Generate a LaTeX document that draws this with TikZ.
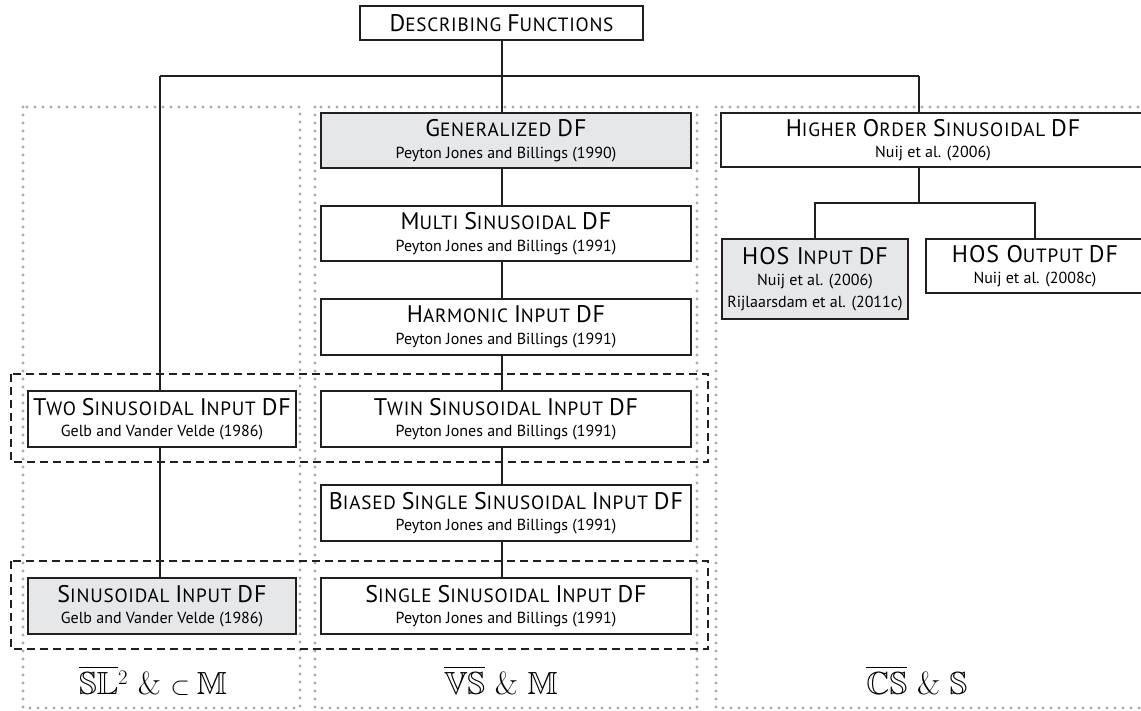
\documentclass[tikz,border=0pt]{standalone}
\usepackage{amssymb}
\usepackage{fontspec}
\newfontfamily\dfsans{PT Sans}
\newfontfamily\dftitle{PT Sans}[LetterSpace=4]

\definecolor{ink}{HTML}{231F20}
\definecolor{boxgray}{HTML}{E6E7E8}
\definecolor{dotgray}{HTML}{A7A9AC}

% hand-made small capitals: \C gives the full-size capitals, \ttl the small ones
\newcommand\C[1]{{\fontsize{24}{22}\selectfont #1}}
\newcommand\ttl[1]{{\dftitle\fontsize{19.2}{22}\selectfont #1}}

\pgfdeclarelayer{frames}
\pgfdeclarelayer{links}
\pgfsetlayers{frames,links,main}

\tikzset{
  dfbox/.style={draw=ink, line width=2pt, fill=white, align=center,
    inner sep=0pt, font=\dfsans\fontsize{16}{21.5}\selectfont},
  keybox/.style={dfbox, fill=boxgray},
  link/.style={draw=ink, line width=2pt},
  column/.style={draw=dotgray, line width=3.2pt, line cap=round,
    dash pattern=on 0pt off 8pt},
  group/.style={draw=ink, line width=1.8pt, dash pattern=on 8pt off 5pt},
  setlabel/.style={font=\fontsize{32}{36}\selectfont, anchor=base, inner sep=0pt}
}

\begin{document}
\begin{tikzpicture}[x=1pt,y=-1pt]
\clip (0,0) rectangle (1141,711);

% ---- root
\node[dfbox, minimum width=283pt, minimum height=34pt] (root) at (501.5,23)
  {\ttl{\C{D}ESCRIBING \C{F}UNCTIONS}};

% ---- middle column
\node[keybox, minimum width=370pt, minimum height=55pt] (gen) at (506,140.5)
  {\ttl{\C{G}ENERALIZED \C{DF}}\\ Peyton Jones and Billings (1990)};
\node[dfbox, minimum width=370pt, minimum height=55pt] (multi) at (506,233.5)
  {\ttl{\C{M}ULTI \C{S}INUSOIDAL \C{DF}}\\ Peyton Jones and Billings (1991)};
\node[dfbox, minimum width=370pt, minimum height=56pt] (harm) at (506,327)
  {\ttl{\C{H}ARMONIC \C{I}NPUT \C{DF}}\\ Peyton Jones and Billings (1991)};
\node[dfbox, minimum width=370pt, minimum height=56pt] (twin) at (506,419)
  {\ttl{\C{T}WIN \C{S}INUSOIDAL \C{I}NPUT \C{DF}}\\ Peyton Jones and Billings (1991)};
\node[dfbox, minimum width=370pt, minimum height=56pt] (biased) at (506,513)
  {\ttl{\C{B}IASED \C{S}INGLE \C{S}INUSOIDAL \C{I}NPUT \C{DF}}\\ Peyton Jones and Billings (1991)};
\node[dfbox, minimum width=370pt, minimum height=56pt] (single) at (506,606)
  {\ttl{\C{S}INGLE \C{S}INUSOIDAL \C{I}NPUT \C{DF}}\\ Peyton Jones and Billings (1991)};

% ---- left column
\node[dfbox, minimum width=268pt, minimum height=56pt] (two) at (162,419)
  {\ttl{\C{T}WO \C{S}INUSOIDAL \C{I}NPUT \C{DF}}\\ Gelb and Vander Velde (1986)};
\node[keybox, minimum width=268pt, minimum height=56pt] (sin) at (162,606)
  {\ttl{\C{S}INUSOIDAL \C{I}NPUT \C{DF}}\\ Gelb and Vander Velde (1986)};

% ---- right column
\node[dfbox, minimum width=424pt, minimum height=54pt] (hos) at (933,140)
  {\ttl{\C{H}IGHER \C{O}RDER \C{S}INUSOIDAL \C{DF}}\\ Nuij et al. (2006)};
\node[keybox, minimum width=186pt, minimum height=80pt] (hin) at (815,279)
  {\ttl{\C{HOS I}NPUT \C{DF}}\\ Nuij et al. (2006)\\ Rijlaarsdam et al. (2011c)};
\node[dfbox, minimum width=218pt, minimum height=54pt] (hout) at (1035,266)
  {\ttl{\C{HOS O}UTPUT \C{DF}}\\ Nuij et al. (2008c)};

% ---- set labels
\node[setlabel] (lblL) at (153,694) {$\overline{\mathbb{SL}}{}^{2}$ \& $\subset \mathbb{M}$};
\node[setlabel] (lblM) at (501,694) {$\overline{\mathbb{VS}}$ \& $\mathbb{M}$};
\node[setlabel] (lblR) at (917,694) {$\overline{\mathbb{CS}}$ \& $\mathbb{S}$};

% ---- column frames and groupings
\begin{pgfonlayer}{frames}
  \draw[column] (23,107) rectangle (300,708);
  \draw[column] (315,107) rectangle (697,708);
  \draw[column] (716,107) rectangle (1170,708);
  \draw[group] (11,374) rectangle (708,462);
  \draw[group] (11,561) rectangle (708,649);
\end{pgfonlayer}

% ---- connectors
\coordinate (busL) at (160,76);
\coordinate (busR) at (919,76);
\coordinate (busM) at (502,76);
\coordinate (split) at (919,203);
\begin{pgfonlayer}{links}
  \draw[link] (root.south -| busM) -- (busM);
  \draw[link] (busL) -- (busR);
  \draw[link] (busL) -- (busL |- two.north);
  \draw[link] (busM) -- (busM |- gen.north);
  \draw[link] (busR) -- (busR |- hos.north);
  \foreach \a/\b in {gen/multi, multi/harm, harm/twin, twin/biased, biased/single}
    \draw[link] (busM |- \a.south) -- (busM |- \b.north);
  \draw[link] (busL |- two.south) -- (busL |- sin.north);
  \draw[link] (busR |- hos.south) -- (split);
  \draw[link] (hin.north) -- (hin.north |- split) -- (hout.north |- split) -- (hout.north);
\end{pgfonlayer}
\end{tikzpicture}
\end{document}
